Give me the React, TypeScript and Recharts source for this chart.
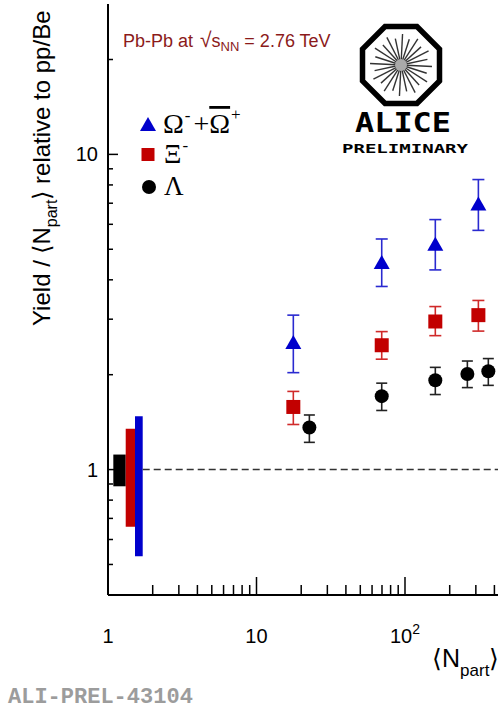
import React from 'react';
import { ScatterChart, Scatter, XAxis, YAxis, ErrorBar, ReferenceArea, ReferenceLine } from 'recharts';

// ---------- data ----------
const omegaNpart = [17.7, 69.7, 160, 312];
const omegaYield = [2.52, 4.52, 5.17, 6.93];
const omegaErrLow = [0.49, 0.71, 0.87, 1.19];
const omegaErrHigh = [0.57, 0.87, 1.04, 1.39];

const xiNpart = [17.7, 69.7, 160, 312];
const xiYield = [1.58, 2.48, 2.95, 3.09];
const xiErrLow = [0.19, 0.24, 0.29, 0.34];
const xiErrHigh = [0.19, 0.26, 0.34, 0.35];

const lambdaNpart = [22.7, 69.7, 160, 263, 364];
const lambdaYield = [1.36, 1.71, 1.92, 2.01, 2.05];
const lambdaErrLow = [0.14, 0.17, 0.19, 0.19, 0.2];
const lambdaErrHigh = [0.13, 0.17, 0.19, 0.2, 0.2];

// normalisation uncertainty boxes at Npart ~ 1 (Lambda, Xi, Omega)
const sysXFrom = [1.086, 1.316, 1.52];
const sysXTo = [1.316, 1.52, 1.713];
const sysYFrom = [0.885, 0.658, 0.531];
const sysYTo = [1.116, 1.348, 1.475];

const unityValue = 1;
const unityLineStart = 1.713;

const X_DOMAIN = [1, 450];
const Y_DOMAIN = [0.4, 30];

const xTicks = [1, 2, 3, 4, 5, 6, 7, 8, 9, 10, 20, 30, 40, 50, 60, 70, 80, 90, 100, 200, 300, 400];
const xMajorTicks = [1, 10, 100];
const xTickLabels = ['1', '10', '10'];
const xTickExponents = ['', '', '2'];

const yTicks = [0.5, 0.6, 0.7, 0.8, 0.9, 1, 2, 3, 4, 5, 6, 7, 8, 9, 10, 20];
const yMajorTicks = [1, 10];
const yTickLabels = ['1', '10'];

// ---------- styles ----------
const BLUE = '#0000cc';
const RED = '#c20000';
const BLACK = '#000000';
const SANS = '"Liberation Sans", Arial, Helvetica, sans-serif';
const SERIF = '"Liberation Serif", "Times New Roman", serif';

const build = (xs: number[], ys: number[], lo: number[], hi: number[]) =>
  xs.map((x, i) => ({ x, y: ys[i], err: [lo[i], hi[i]] }));

const omegaData = build(omegaNpart, omegaYield, omegaErrLow, omegaErrHigh);
const xiData = build(xiNpart, xiYield, xiErrLow, xiErrHigh);
const lambdaData = build(lambdaNpart, lambdaYield, lambdaErrLow, lambdaErrHigh);

function XTick(props: any) {
  const { x, y, payload } = props;
  const v = payload.value;
  const mi = xMajorTicks.indexOf(v);
  const major = mi >= 0;
  return (
    <g>
      {v > 1 && (
        <line x1={x} x2={x} y1={y} y2={y - (major ? 18 : 10)} stroke="#000" strokeWidth={1.5} />
      )}
      {major && (
        <text x={x} y={y + 48} textAnchor="middle" fontSize={20} fontFamily={SANS} fill="#000">
          {xTickLabels[mi]}
          {xTickExponents[mi] && (
            <tspan fontSize={14} dy={-9}>
              {xTickExponents[mi]}
            </tspan>
          )}
        </text>
      )}
    </g>
  );
}

function YTickLeft(props: any) {
  const { x, y, payload } = props;
  const v = payload.value;
  const mi = yMajorTicks.indexOf(v);
  const major = mi >= 0;
  return (
    <g>
      <line x1={x} x2={x + (major ? 10 : 5)} y1={y} y2={y} stroke="#000" strokeWidth={1.5} />
      {major && (
        <text x={x - 10} y={y + 7} textAnchor="end" fontSize={20} fontFamily={SANS} fill="#000">
          {yTickLabels[mi]}
        </text>
      )}
    </g>
  );
}

function YTickRight(props: any) {
  const { x, y, payload } = props;
  const major = yMajorTicks.indexOf(payload.value) >= 0;
  return <line x1={x} x2={x - (major ? 10 : 5)} y1={y} y2={y} stroke="#777" strokeWidth={1.5} />;
}

const TriangleShape = (p: any) => {
  const { cx, cy } = p;
  return <polygon points={`${cx},${cy - 8} ${cx - 8},${cy + 6} ${cx + 8},${cy + 6}`} fill={BLUE} />;
};
const SquareShape = (p: any) => {
  const { cx, cy } = p;
  return <rect x={cx - 7} y={cy - 7} width={14} height={14} fill={RED} />;
};
const CircleShape = (p: any) => {
  const { cx, cy } = p;
  return <circle cx={cx} cy={cy} r={7} fill={BLACK} />;
};

function AliceLogo() {
  const cx = 401;
  const cy = 65;
  const R = 38.5 / Math.cos(Math.PI / 8);
  const pts: string[] = [];
  for (let k = 0; k < 8; k++) {
    const a = Math.PI / 8 + (k * Math.PI) / 4;
    pts.push(`${cx + R * Math.cos(a)},${cy + R * Math.sin(a)}`);
  }
  const spokes = [];
  for (let k = 0; k < 24; k++) {
    const a = (k * Math.PI) / 12 + 0.05;
    const r2 = k % 2 === 0 ? 31 : 27;
    spokes.push(
      <line
        key={k}
        x1={cx + 5 * Math.cos(a)}
        y1={cy + 5 * Math.sin(a)}
        x2={cx + r2 * Math.cos(a)}
        y2={cy + r2 * Math.sin(a)}
        stroke="#333"
        strokeWidth={1.4}
      />
    );
  }
  return (
    <g>
      <polygon points={pts.join(' ')} fill="none" stroke="#000" strokeWidth={5.5} />
      {spokes}
      <circle cx={cx} cy={cy} r={6} fill="#aaa" />
      <text x={403} y={132} textAnchor="middle" fontSize={27} fontWeight="bold" fontFamily='"DejaVu Sans Mono", monospace' textLength={96} lengthAdjust="spacingAndGlyphs" fill="#000">
        ALICE
      </text>
      <text x={405} y={153} textAnchor="middle" fontSize={13} fontWeight="bold" fontFamily='"DejaVu Sans Mono", monospace' textLength={126} lengthAdjust="spacingAndGlyphs" fill="#000">
        PRELIMINARY
      </text>
    </g>
  );
}

export default function App() {
  return (
    <div style={{ position: 'absolute', left: 0, top: 0, width: 498, height: 710, overflow: 'hidden', background: '#fff' }}>
      <ScatterChart width={520} height={710} margin={{ top: 4, right: 18, bottom: 0, left: 0 }}>
        <XAxis
          xAxisId={0}
          dataKey="x"
          type="number"
          scale="log"
          domain={X_DOMAIN}
          allowDataOverflow
          ticks={xTicks}
          interval={0}
          tick={<XTick />}
          tickLine={false}
          tickSize={0}
          tickMargin={0}
          axisLine={{ stroke: '#000', strokeWidth: 2 }}
          height={115}
        />
        <XAxis
          xAxisId="t"
          orientation="top"
          type="number"
          scale="log"
          domain={X_DOMAIN}
          allowDataOverflow
          tick={false}
          tickLine={false}
          axisLine={{ stroke: '#666', strokeWidth: 1.5 }}
          height={0}
        />
        <YAxis
          yAxisId={0}
          dataKey="y"
          type="number"
          scale="log"
          domain={Y_DOMAIN}
          allowDataOverflow
          ticks={yTicks}
          interval={0}
          tick={<YTickLeft />}
          tickLine={false}
          tickSize={0}
          tickMargin={0}
          axisLine={{ stroke: '#000', strokeWidth: 2 }}
          width={108}
        />
        <YAxis
          yAxisId="r"
          orientation="right"
          type="number"
          scale="log"
          domain={Y_DOMAIN}
          allowDataOverflow
          ticks={yTicks}
          interval={0}
          tick={<YTickRight />}
          tickLine={false}
          tickSize={0}
          tickMargin={0}
          axisLine={false}
          width={0}
        />
        {sysXFrom.map((x1, i) => (
          <ReferenceArea
            key={'sys' + i}
            x1={x1}
            x2={sysXTo[i]}
            y1={sysYFrom[i]}
            y2={sysYTo[i]}
            fill={[BLACK, RED, BLUE][i]}
            fillOpacity={1}
            stroke="none"
            ifOverflow="visible"
          />
        ))}
        <ReferenceLine
          segment={[
            { x: unityLineStart, y: unityValue },
            { x: X_DOMAIN[1], y: unityValue },
          ]}
          stroke="#333"
          strokeWidth={1.5}
          strokeDasharray="7 4"
          ifOverflow="visible"
        />
        <Scatter data={omegaData} shape={TriangleShape} isAnimationActive={false} fill={BLUE}>
          <ErrorBar dataKey="err" direction="y" width={6} stroke="#2a2ad0" strokeWidth={1.6} />
        </Scatter>
        <Scatter data={xiData} shape={SquareShape} isAnimationActive={false} fill={RED}>
          <ErrorBar dataKey="err" direction="y" width={6} stroke="#d02a2a" strokeWidth={1.6} />
        </Scatter>
        <Scatter data={lambdaData} shape={CircleShape} isAnimationActive={false} fill={BLACK}>
          <ErrorBar dataKey="err" direction="y" width={5.5} stroke="#222" strokeWidth={1.6} />
        </Scatter>
      </ScatterChart>
      <svg width={498} height={710} style={{ position: 'absolute', left: 0, top: 0, pointerEvents: 'none' }}>
        {/* y-axis title */}
        <text x={50} y={326} transform="rotate(-90 50 326)" fontSize={24} fontFamily={SANS} fill="#000">
          Yield / ⟨N
          <tspan fontSize={16} dy={7}>part</tspan>
          <tspan dy={-7}>⟩ relative to pp/Be</tspan>
        </text>
        {/* x-axis title */}
        <text x={432} y={667} fontSize={25} fontFamily={SANS} fill="#000">
          ⟨N
          <tspan fontSize={17} dy={9}>part</tspan>
          <tspan dy={-9}>⟩</tspan>
        </text>
        {/* collision system */}
        <text x={123} y={47} fontSize={18} fontFamily={SANS} fill="#8b1a1a">
          Pb-Pb at <tspan fontSize={21} dx={2}>√</tspan>s
          <tspan fontSize={13} dy={4}>NN</tspan>
          <tspan dy={-4}> = 2.76 TeV</tspan>
        </text>
        {/* legend */}
        <polygon points="148,117 140,131 156,131" fill={BLUE} />
        <text x={163} y={133} fontSize={28} fontFamily={SERIF} fill="#000">
          Ω<tspan fontSize={17} dy={-12} dx={1}>-</tspan>
          <tspan dy={12} dx={3}>+</tspan>
          <tspan style={{ textDecoration: 'overline' }}>Ω</tspan>
          <tspan fontSize={17} dy={-13} dx={1}>+</tspan>
        </text>
        <rect x={141.5} y={148} width={13} height={13} fill={RED} />
        <text x={164} y={163} fontSize={27} fontFamily={SERIF} fill="#000">
          Ξ<tspan fontSize={17} dy={-12} dx={1}>-</tspan>
        </text>
        <circle cx={149} cy={187} r={7} fill={BLACK} />
        <text x={164} y={195} fontSize={27} fontFamily={SERIF} fill="#000">
          Λ
        </text>
        <AliceLogo />
        {/* figure id */}
        <text x={8} y={703} fontSize={22} fontWeight="bold" fontFamily='"Liberation Mono", "Courier New", monospace' fill="#9c9c9c">
          ALI-PREL-43104
        </text>
      </svg>
    </div>
  );
}
